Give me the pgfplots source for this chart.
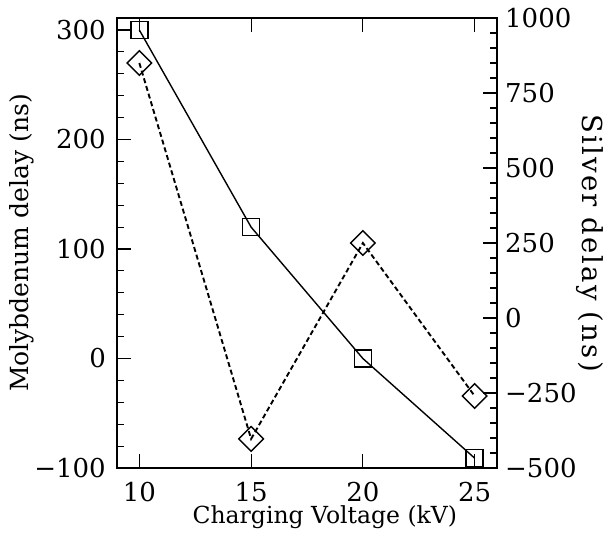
\documentclass[border=0pt]{standalone}
\usepackage{fontspec}
\setmainfont{DejaVu Serif}
\usepackage{pgfplots}
\pgfplotsset{compat=1.18}
\pgfplotstableread{
x y
10 300
15 120
20 0
25 -91
}\moly
\pgfplotstableread{
x y
10 850
15 -403
20 250
25 -260
}\silver
\pgfplotsset{
  common/.style={
    scale only axis, width=380pt, height=450pt,
    xmin=9, xmax=26,
    tick align=inside,
    major tick length=14pt, minor tick length=7pt,
    every tick/.style={black, line width=1.1pt},
    axis line style={line width=1.8pt},
    tick label style={font=\fontsize{26}{30}\selectfont},
    label style={font=\fontsize{25}{30}\selectfont},
    /pgf/number format/assume math mode=true,
    /pgf/number format/1000 sep={},
  }
}
\begin{document}
\begin{tikzpicture}
\begin{axis}[common,
  ymin=-100, ymax=311,
  xtick={10,15,20,25},
  ytick={-100,0,100,200,300},
  yticklabels={−100,0,100,200,300},
  minor y tick num=4,
  ytick pos=left, xtick pos=both,
  yticklabel style={inner sep=0pt, xshift=-11pt},
  xticklabel style={inner sep=0pt, yshift=-14pt},
  xlabel={Charging Voltage (kV)},
  ylabel={Molybdenum delay (ns)},
  xlabel style={at={(axis description cs:0.547,-0.11)}, anchor=center, font=\fontsize{23.5}{28}\selectfont},
  ylabel style={at={(axis description cs:-0.25,0.5)}, anchor=center},
]
\coordinate (ll) at (rel axis cs:0,0);
\addplot[black, line width=1.4pt, mark=square, mark size=8.5pt,
  mark options={solid, fill=white, line width=1.4pt}] table {\moly};
\end{axis}
\begin{axis}[common,
  ymin=-500, ymax=1000,
  axis x line=none, axis y line*=right,
  ytick={-500,-250,0,250,500,750,1000},
  yticklabels={−500,−250,0,250,500,750,1000},
  minor y tick num=4,
  yticklabel style={inner sep=0pt, xshift=8pt},
  ylabel={\addfontfeatures{LetterSpace=8}Silver delay (ns)},
  ylabel style={at={(axis description cs:1.245,0.5)}, anchor=center, rotate=180, font=\fontsize{27.5}{32}\selectfont},
]
\addplot[black, line width=1.9pt, dash pattern=on 5pt off 3pt, mark=square, mark size=8.7pt,
  mark options={solid, rotate=45, fill=white, line width=1.4pt}] table {\silver};
\end{axis}
\pgfresetboundingbox
\path (ll) ++(-117pt,-82pt) rectangle ++(609pt,550pt);
\end{tikzpicture}
\end{document}
